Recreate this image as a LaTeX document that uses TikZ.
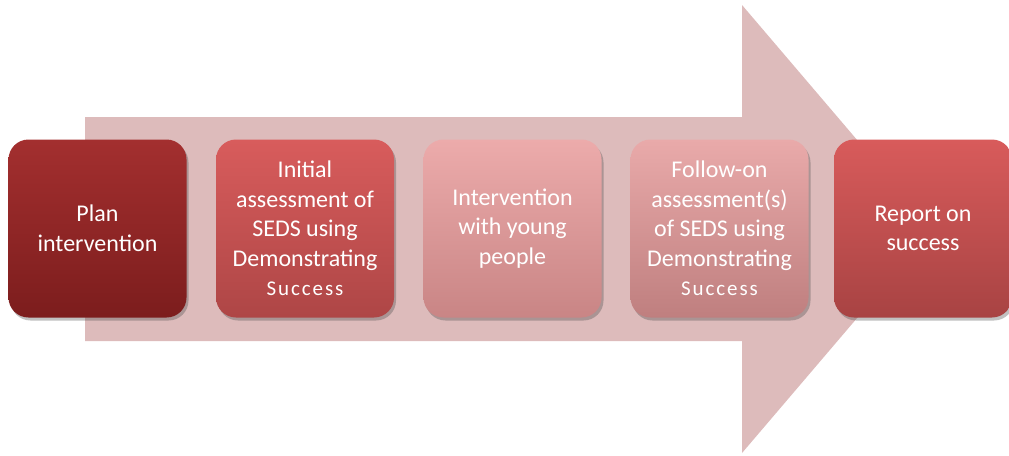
\documentclass[tikz,border=0pt]{standalone}
\usepackage{fontspec}
\setmainfont{Carlito}
\usetikzlibrary{shadows}
\definecolor{arrowc}{HTML}{DDBBBB}
\definecolor{aT}{HTML}{A32F2F}\definecolor{aB}{HTML}{7C1D1D}
\definecolor{bT}{HTML}{D85C5C}\definecolor{bB}{HTML}{AE4646}
\definecolor{cT}{HTML}{ECABAB}\definecolor{cB}{HTML}{C98585}
\definecolor{dT}{HTML}{E9AAAA}\definecolor{dB}{HTML}{BF7F7F}
\definecolor{eT}{HTML}{D85B5B}\definecolor{eB}{HTML}{A84343}
\tikzset{
  stepbox/.style={rounded corners=20pt, minimum width=178pt, minimum height=178pt,
    align=center, text=white, inner sep=0pt,
    font=\fontsize{24}{29.5}\selectfont,
    drop shadow={shadow xshift=2pt, shadow yshift=-3pt, opacity=0.35, fill=black!70}}
}
\newcommand{\sm}[1]{{\fontsize{21}{29.5}\selectfont\addfontfeature{LetterSpace=9}#1}}
\begin{document}
\begin{tikzpicture}[x=1pt,y=-1pt]
\useasboundingbox (0,0) rectangle (1009,455);
\fill[arrowc] (85,117) -- (742,117) -- (742,5) -- (933,229) -- (742,453) -- (742,341) -- (85,341) -- cycle;
\node[stepbox, top color=aT, bottom color=aB] (s1) at (97.5,228.5) {Plan\\intervention};
\node[stepbox, top color=bT, bottom color=bB] (s2) at (305,228.5) {Initial\\assessment of\\SEDS using\\Demonstrating\\\sm{Success}};
\node[stepbox, top color=cT, bottom color=cB] (s3) at (512.5,228.5) {Intervention\\with young\\people};
\node[stepbox, top color=dT, bottom color=dB] (s4) at (719.5,228.5) {Follow-on\\assessment(s)\\of SEDS using\\Demonstrating\\\sm{Success}};
\node[stepbox, top color=eT, bottom color=eB] (s5) at (923,228.5) {Report on\\success};
\end{tikzpicture}
\end{document}
